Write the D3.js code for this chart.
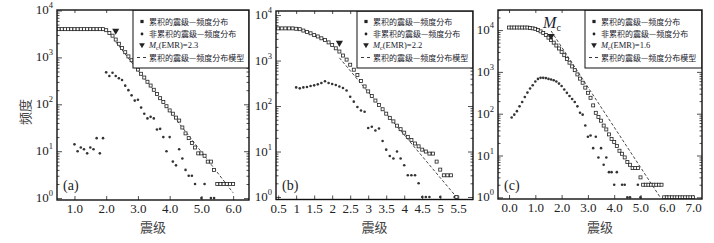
<!DOCTYPE html>
<html>
<head>
<meta charset="utf-8">
<script src="https://cdn.jsdelivr.net/npm/d3@7"></script>
<style>
  body { margin: 0; background: #fff; }
  svg { display: block; }
</style>
</head>
<body>
<div id="chart"></div>
<script>
// ---- data: [magnitude, count] ----

// panel (a)
const cumA = [[0.5,4000],[0.6,4000],[0.7,4000],[0.8,4000],[0.9,4000],[1.0,4000],[1.1,4000],[1.2,4000],[1.3,4000],
  [1.4,4000],[1.5,4000],[1.6,4000],[1.7,4000],[1.8,4000],[1.9,4000],[2.0,3800],[2.1,3300],[2.2,2900],[2.3,2400],
  [2.4,1950],[2.5,1580],[2.6,1290],[2.7,1050],[2.8,870],[2.9,690],[3.0,550],[3.1,447],[3.2,372],[3.3,302],[3.4,251],
  [3.5,204],[3.6,166],[3.7,135],[3.8,112],[3.9,91],[4.0,74],[4.1,63],[4.2,52],[4.3,45],[4.4,32],[4.5,24],[4.6,19],
  [4.7,15],[4.8,12],[4.9,9],[5.0,9],[5.1,8],[5.2,6],[5.3,6],[5.4,4],[5.5,2],[5.6,2],[5.7,2],[5.8,2],[5.9,2],[6.0,2]];
const nonA = [[1.0,14],[1.1,10],[1.2,12],[1.3,11],[1.4,9],[1.5,12],[1.6,11],[1.7,19],[1.8,9],[1.9,19],
  [2.0,480],[2.1,400],[2.2,470],[2.3,400],[2.4,360],[2.5,330],[2.6,250],[2.7,200],[2.8,155],[2.9,120],[3.0,125],
  [3.1,85],[3.2,63],[3.3,50],[3.4,54],[3.5,50],[3.6,29],[3.7,30],[3.8,20],[3.9,10],[4.0,20],[4.1,6],[4.2,5],
  [4.3,11],[4.4,7],[4.5,4],[4.6,3],[4.7,3],[4.8,2],[5.0,1],[5.1,2],[5.3,1],[5.4,1]];
const mcA = [2.3, 3700];
const modelA = [[2.3, 2150], [6.0, 1.3]];

// panel (b)
const cumB = [[0.5,5100],[0.6,5100],[0.7,5100],[0.8,5100],[0.9,5100],[1.0,5000],[1.1,4900],[1.2,4570],[1.3,4270],
  [1.4,3980],[1.5,3630],[1.6,3390],[1.7,3090],[1.8,2820],[1.9,2510],[2.0,2190],[2.1,1860],[2.2,1580],[2.3,1290],
  [2.4,1050],[2.5,810],[2.6,630],[2.7,480],[2.8,355],[2.9,270],[3.0,210],[3.1,166],[3.2,132],[3.3,105],[3.4,85],
  [3.5,68],[3.6,55],[3.7,46],[3.8,37],[3.9,31],[4.0,26],[4.1,21],[4.2,18],[4.3,15],[4.4,13],[4.5,11],[4.6,10],
  [4.7,9],[4.8,9],[4.9,6],[5.0,4],[5.1,3],[5.2,3],[5.3,3],[5.45,1]];
const nonB = [[1.0,257],[1.1,245],[1.2,257],[1.3,263],[1.4,275],[1.5,285],[1.6,300],[1.7,320],[1.8,350],[1.9,320],
  [2.0,305],[2.1,290],[2.2,270],[2.3,250],[2.4,220],[2.5,160],[2.6,125],[2.7,95],[2.8,80],[2.9,75],[3.0,33],
  [3.1,35],[3.2,29],[3.3,32],[3.4,17],[3.5,11],[3.6,8],[3.7,7],[3.8,10],[3.9,7],[4.0,5],[4.1,3],[4.2,3],[4.3,3],
  [4.4,2],[4.5,1],[4.6,1],[4.7,1],[5.0,1],[5.4,1]];
const mcB = [2.2, 2450];
const modelB = [[2.2, 1150], [5.45, 1.0]];

// panel (c)
const cumC = [[0.0,11500],[0.1,11500],[0.2,11500],[0.3,11500],[0.4,11500],[0.5,11500],[0.6,11500],[0.7,11500],
  [0.8,11200],[0.9,11000],[1.0,10700],[1.1,10000],[1.2,9300],[1.3,8500],[1.4,7600],[1.5,6600],[1.6,5750],
  [1.7,5000],[1.8,4270],[1.9,3630],[2.0,3020],[2.1,2510],[2.2,2040],[2.3,1660],[2.4,1350],[2.5,1100],[2.6,870],
  [2.7,690],[2.8,550],[2.9,420],[3.0,316],[3.1,240],[3.2,158],[3.3,105],[3.4,83],[3.5,68],[3.6,52],[3.7,42],
  [3.8,32],[3.9,25],[4.0,21],[4.1,17],[4.2,13],[4.3,11],[4.4,9],[4.5,7],[4.6,6],[4.7,5],[4.8,5],[4.9,5],[5.0,3],
  [5.1,2],[5.2,2],[5.3,2],[5.4,2],[5.5,2],[5.6,2],[5.7,2],[5.8,2],[5.9,1],[6.0,1],[6.1,1],[6.2,1],[6.3,1],
  [6.4,1],[6.5,1],[6.6,1],[6.7,1],[6.8,1],[6.9,1],[7.0,1]];
const nonC = [[0.1,81],[0.2,95],[0.3,115],[0.4,150],[0.5,190],[0.6,250],[0.7,320],[0.8,400],[0.9,480],[1.0,590],
  [1.1,680],[1.2,720],[1.3,720],[1.4,710],[1.5,680],[1.6,660],[1.7,630],[1.8,590],[1.9,525],[2.0,460],[2.1,380],
  [2.2,315],[2.3,265],[2.4,225],[2.5,190],[2.6,150],[2.7,105],[2.8,95],[2.9,52],[3.0,28],[3.1,30],[3.2,15],
  [3.3,28],[3.4,9],[3.5,15],[3.6,6],[3.7,9],[3.8,4],[3.9,4],[4.0,2],[4.1,4],[4.3,2],[4.4,2],[4.5,1],[4.6,1],
  [4.9,2],[5.0,1]];
const mcC = [1.6, 7200];
const modelC = [[1.6, 9500], [5.75, 1.0]];

const xTicksA = [1, 2, 3, 4, 5, 6];
const xTicksB = [0.5, 1, 1.5, 2, 2.5, 3, 3.5, 4, 4.5, 5, 5.5];
const xTicksC = [0, 1, 2, 3, 4, 5, 6, 7];

const legendLabels = ['累积的震级—频度分布', '非累积的震级—频度分布', '(EMR)=', '累积的震级—频度分布模型'];

const serif = '"Liberation Serif", "DejaVu Serif", serif';
const cjk = '"Noto Sans CJK SC", sans-serif';

const svg = d3.select('#chart').append('svg')
  .attr('width', 714)
  .attr('height', 243);

svg.append('rect').attr('width', 714).attr('height', 243).attr('fill', '#fff');

const panels = [
  { name: 'a', left: 57, right: 249, top: 10, bottom: 200, xDomain: [0.45, 6.5], yDomain: [Math.pow(10, -0.04), Math.pow(10, 4.01)],
    xTicks: xTicksA, fmt: d3.format('.1f'), cum: cumA, non: nonA, mc: mcA, model: modelA, legendX: 133, label: '(a)', yTitle: true },
  { name: 'b', left: 276, right: 473, top: 11, bottom: 199.5, xDomain: [0.44, 5.91], yDomain: [Math.pow(10, -0.055), Math.pow(10, 4.09)],
    xTicks: xTicksB, fmt: d => String(d), cum: cumB, non: nonB, mc: mcB, model: modelB, legendX: 357, label: '(b)' },
  { name: 'c', left: 498, right: 702, top: 10, bottom: 199, xDomain: [-0.42, 7.34], yDomain: [Math.pow(10, -0.04), Math.pow(10, 4.48)],
    xTicks: xTicksC, fmt: d3.format('.1f'), cum: cumC, non: nonC, mc: mcC, model: modelC, legendX: 585, label: '(c)', mcLabel: true }
];

function drawPanel(p) {
  const x = d3.scaleLinear().domain(p.xDomain).range([p.left, p.right]);
  const y = d3.scaleLog().domain(p.yDomain).range([p.bottom, p.top]);
  const g = svg.append('g');
  const clipId = 'clip-' + p.name;

  svg.append('clipPath').attr('id', clipId)
    .append('rect')
    .attr('x', p.left).attr('y', p.top)
    .attr('width', p.right - p.left).attr('height', p.bottom - p.top);

  // tick values for the log axis
  const yMajor = [1, 10, 100, 1000, 10000].filter(d => d >= p.yDomain[0] && d <= p.yDomain[1]);
  const yMinor = [];
  for (let e = -1; e <= 4; e++) {
    for (let k = 2; k <= 9; k++) {
      const v = k * Math.pow(10, e);
      if (v >= p.yDomain[0] && v <= p.yDomain[1]) yMinor.push(v);
    }
  }

  // inner ticks on all four sides
  const tickStyle = sel => {
    sel.select('.domain').remove();
    sel.selectAll('line').attr('stroke', '#222').attr('stroke-width', 0.8);
  };
  g.append('g').attr('transform', `translate(${p.left},0)`)
    .call(d3.axisLeft(y).tickValues(yMajor).tickSizeInner(-5).tickSizeOuter(0).tickFormat(''))
    .call(tickStyle);
  g.append('g').attr('transform', `translate(${p.left},0)`)
    .call(d3.axisLeft(y).tickValues(yMinor).tickSizeInner(-2.5).tickSizeOuter(0).tickFormat(''))
    .call(tickStyle);
  g.append('g').attr('transform', `translate(${p.right},0)`)
    .call(d3.axisRight(y).tickValues(yMajor).tickSizeInner(-5).tickSizeOuter(0).tickFormat(''))
    .call(tickStyle);
  g.append('g').attr('transform', `translate(${p.right},0)`)
    .call(d3.axisRight(y).tickValues(yMinor).tickSizeInner(-2.5).tickSizeOuter(0).tickFormat(''))
    .call(tickStyle);

  const xAxis = g.append('g').attr('transform', `translate(0,${p.bottom})`)
    .call(d3.axisBottom(x).tickValues(p.xTicks).tickSizeInner(-4).tickSizeOuter(0).tickPadding(4).tickFormat(p.fmt))
    .call(tickStyle);
  xAxis.selectAll('text')
    .attr('fill', '#222')
    .style('font-family', serif)
    .style('font-size', '13px');
  g.append('g').attr('transform', `translate(0,${p.top})`)
    .call(d3.axisTop(x).tickValues(p.xTicks).tickSizeInner(-3).tickSizeOuter(0).tickFormat(''))
    .call(tickStyle);

  // y tick labels 10^n
  const yl = g.append('g').selectAll('text')
    .data(yMajor)
    .join('text')
    .attr('x', p.left - 4)
    .attr('y', d => y(d) + 4)
    .attr('text-anchor', 'end')
    .attr('fill', '#222')
    .style('font-family', serif)
    .style('font-size', '13px');
  yl.append('tspan').text('10');
  yl.append('tspan').attr('dy', -6).style('font-size', '8.5px').text(d => Math.round(Math.log10(d)));

  const plot = g.append('g').attr('clip-path', `url(#${clipId})`);

  // model line
  plot.append('path')
    .datum(p.model)
    .attr('fill', 'none')
    .attr('stroke', '#333')
    .attr('stroke-width', 0.9)
    .attr('stroke-dasharray', '3,2')
    .attr('d', d3.line().x(d => x(d[0])).y(d => y(d[1])));

  // non-cumulative: small dots
  plot.append('g').selectAll('circle')
    .data(p.non)
    .join('circle')
    .attr('cx', d => x(d[0]))
    .attr('cy', d => y(d[1]))
    .attr('r', 1.3)
    .attr('fill', '#333');

  // cumulative: open squares
  const s = 3;
  plot.append('g').selectAll('rect')
    .data(p.cum)
    .join('rect')
    .attr('x', d => x(d[0]) - s / 2)
    .attr('y', d => y(d[1]) - s / 2)
    .attr('width', s)
    .attr('height', s)
    .attr('fill', '#fff')
    .attr('stroke', '#222')
    .attr('stroke-width', 0.8);

  // Mc triangle
  const tri = d3.symbol().type(d3.symbolTriangle).size(22);
  plot.append('path')
    .attr('d', tri())
    .attr('transform', `translate(${x(p.mc[0])},${y(p.mc[1])}) rotate(180)`)
    .attr('fill', '#222');

  if (p.mcLabel) {
    const t = g.append('text')
      .attr('x', x(p.mc[0]) - 8)
      .attr('y', y(p.mc[1]) - 8)
      .attr('fill', '#223')
      .style('font-family', serif);
    t.append('tspan').style('font-style', 'italic').style('font-size', '16px').text('M');
    t.append('tspan').attr('dy', 3).style('font-size', '10px').text('c');
  }

  // legend
  const lg = g.append('g').attr('clip-path', `url(#${clipId})`);
  lg.append('rect')
    .attr('x', p.legendX).attr('y', p.top)
    .attr('width', p.right - p.legendX).attr('height', 68 - p.top)
    .attr('fill', '#fff')
    .attr('stroke', '#111')
    .attr('stroke-width', 1);
  const mx = p.legendX + 9;
  const tx = p.legendX + 16;
  const rows = [21.5, 34, 45, 57.5];
  lg.append('rect').attr('x', mx - 1.6).attr('y', rows[0] - 1.6).attr('width', 3.2).attr('height', 3.2).attr('fill', '#222');
  lg.append('circle').attr('cx', mx).attr('cy', rows[1]).attr('r', 1.4).attr('fill', '#222');
  lg.append('path').attr('d', d3.symbol().type(d3.symbolTriangle).size(14)())
    .attr('transform', `translate(${mx},${rows[2]}) rotate(180)`).attr('fill', '#222');
  lg.append('line').attr('x1', mx - 5).attr('x2', mx + 5).attr('y1', rows[3]).attr('y2', rows[3])
    .attr('stroke', '#222').attr('stroke-width', 0.9).attr('stroke-dasharray', '3,3');

  [0, 1, 3].forEach(i => {
    lg.append('text')
      .attr('x', tx).attr('y', rows[i] + 3)
      .attr('fill', '#1a1a2a')
      .style('font-family', cjk)
      .style('font-size', '8px')
      .text(legendLabels[i]);
  });
  const mt = lg.append('text')
    .attr('x', tx).attr('y', rows[2] + 3)
    .attr('fill', '#1a1a2a')
    .style('font-family', serif)
    .style('font-size', '8.5px');
  mt.append('tspan').style('font-style', 'italic').text('M');
  mt.append('tspan').attr('dy', 2).style('font-size', '6px').text('c');
  mt.append('tspan').attr('dy', -2).text(legendLabels[2] + p.mc[0].toFixed(1));

  // frame
  g.append('rect')
    .attr('x', p.left).attr('y', p.top)
    .attr('width', p.right - p.left).attr('height', p.bottom - p.top)
    .attr('fill', 'none')
    .attr('stroke', '#111')
    .attr('stroke-width', 1.4);

  // panel letter
  g.append('text')
    .attr('x', p.left + 6).attr('y', 190)
    .attr('fill', '#222')
    .style('font-family', serif)
    .style('font-size', '14px')
    .text(p.label);

  // axis titles
  g.append('text')
    .attr('x', (p.left + p.right) / 2).attr('y', 232)
    .attr('text-anchor', 'middle')
    .attr('fill', '#444')
    .style('font-family', cjk)
    .style('font-size', '13px')
    .text('震级');

  if (p.yTitle) {
    g.append('text')
      .attr('transform', `translate(30,112) rotate(-90)`)
      .attr('text-anchor', 'middle')
      .attr('fill', '#444')
      .style('font-family', cjk)
      .style('font-size', '13px')
      .text('频度');
  }
}

panels.forEach(drawPanel);
</script>
</body>
</html>
